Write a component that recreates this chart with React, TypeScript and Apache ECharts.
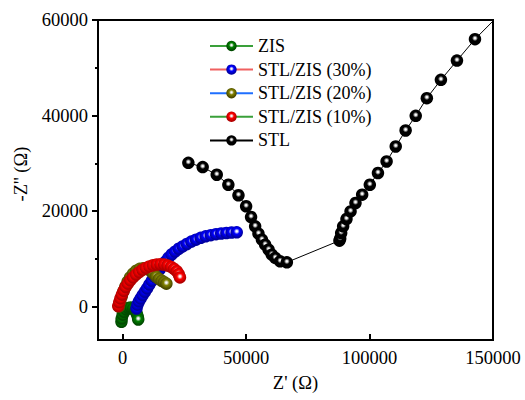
import React, { useEffect, useRef } from "react";
import * as echarts from "echarts";

const seriesNames = ["ZIS", "STL/ZIS (30%)", "STL/ZIS (20%)", "STL/ZIS (10%)", "STL"];
const markerColors = ["#008000", "#0000ff", "#808000", "#ff0000", "#000000"];
const markerDark = ["#004a00", "#0000a0", "#4a4a00", "#b00000", "#000000"];
const lineColors = ["#3aa03a", "#f06060", "#1f6fff", "#3aa03a", "#000000"];

const xTicks = [0, 50000, 100000, 150000];
const yTicks = [0, 20000, 40000, 60000];
const yMinorTicks = [10000, 30000, 50000];

const zis: number[][] = [
  [-500, -3200], [-400, -2500], [0, -1700], [600, -1100], [1400, -600], [2300, -300],
  [3300, -200], [4300, -400], [5100, -900], [5700, -1500], [6100, -2100], [6300, -2700],
];
const stlZis30: number[][] = [
  [5600, -400], [6000, 400], [6600, 1100], [7300, 1700], [8100, 2400], [9000, 3100],
  [9900, 3800], [10800, 4600], [11800, 5400], [12800, 6200], [13900, 7000], [15000, 7800],
  [16100, 8600], [17300, 9400], [18500, 10200], [19800, 10900], [21200, 11500], [22700, 12100],
  [24300, 12600], [26000, 13100], [27800, 13600], [29700, 14000], [31600, 14400], [33600, 14700],
  [35700, 14950], [37800, 15150], [39900, 15300], [42000, 15400], [44100, 15500], [46200, 15550],
];
const stlZis20: number[][] = [
  [-1500, 0], [-1000, 1000], [-400, 2100], [300, 3200], [1100, 4200], [2000, 5200],
  [3000, 6100], [4200, 6900], [5500, 7500], [6900, 7900], [8300, 8000], [9700, 7900],
  [11000, 7600], [12300, 7000], [13500, 6300], [14700, 5800], [15800, 5400], [16800, 5100],
  [17700, 4800],
];
const stlZis10: number[][] = [
  [-1800, 100], [-1400, 900], [-900, 1700], [-300, 2500], [400, 3300], [1200, 4100],
  [2100, 4800], [3100, 5500], [4200, 6100], [5400, 6700], [6700, 7200], [8000, 7700],
  [9400, 8100], [10800, 8400], [12300, 8650], [13800, 8800], [15300, 8850], [16800, 8800],
  [18200, 8600], [19600, 8300], [20800, 7900], [21900, 7400], [22700, 6800], [23200, 6100],
];
const stl: number[][] = [
  [26600, 30100], [32400, 29200], [38100, 27600], [42800, 25500], [46900, 23300],
  [50000, 21000], [52000, 18750], [53650, 16800], [55000, 15260], [56400, 14000],
  [57700, 12960], [59100, 11900], [60400, 10870], [61800, 10180], [63800, 9470],
  [66500, 9260],
  [87800, 13800], [88100, 14200], [88500, 15400], [89300, 16800], [90650, 18330],
  [92300, 19930], [94300, 21680], [97000, 23420], [100100, 25500], [103400, 27960],
  [106900, 30380], [110600, 33520], [114600, 36870], [118700, 39940], [123200, 43640],
  [128900, 47470], [135400, 51500], [142700, 55980], [151000, 60300],
];
const allData = [zis, stlZis30, stlZis20, stlZis10, stl];

const FONT = "'Liberation Serif', 'Times New Roman', serif";

function ball(c: string, dark: string) {
  return {
    type: "radial",
    x: 0.5,
    y: 0.42,
    r: 0.58,
    colorStops: [
      { offset: 0, color: "#ffffff" },
      { offset: 0.12, color: "#f0f0f0" },
      { offset: 0.4, color: c },
      { offset: 0.85, color: dark },
      { offset: 1, color: dark },
    ],
  };
}

const fmt = (v: number) => String(v);

export default function App() {
  const ref = useRef<HTMLDivElement>(null);
  useEffect(() => {
    if (!ref.current) return;
    const chart = echarts.init(ref.current, undefined, { renderer: "svg" });
    chart.setOption({
      animation: false,
      textStyle: { fontFamily: FONT, color: "#000" },
      grid: { left: 98, right: 32, top: 20, bottom: 60, show: true, borderColor: "#000", borderWidth: 2 },
      legend: {
        data: seriesNames,
        orient: "vertical",
        left: 204,
        top: 32,
        itemWidth: 43,
        itemHeight: 13,
        itemGap: 5.6,
        textStyle: { fontFamily: FONT, fontSize: 18, color: "#000", lineHeight: 18 },
      },
      xAxis: {
        type: "value",
        min: -10000,
        max: 150000,
        name: "Z' (Ω)",
        nameLocation: "middle",
        nameGap: 33,
        nameTextStyle: { fontFamily: FONT, fontSize: 18.5, color: "#000" },
        axisLine: { show: true, onZero: false, lineStyle: { color: "#000", width: 2 } },
        axisTick: { show: true, inside: true, length: 6, lineStyle: { width: 2, color: "#000" }, customValues: xTicks },
        axisLabel: { fontFamily: FONT, fontSize: 18.5, color: "#000", margin: 8, customValues: xTicks, formatter: fmt },
        splitLine: { show: false },
      },
      yAxis: [
        {
          type: "value",
          min: -7000,
          max: 60000,
          name: "-Z'' (Ω)",
          nameLocation: "middle",
          nameGap: 63,
          nameTextStyle: { fontFamily: FONT, fontSize: 18.5, color: "#000", padding: [0, 0, 0, 12] },
          axisLine: { show: true, onZero: false, lineStyle: { color: "#000", width: 2 } },
          axisTick: { show: true, inside: false, length: 6, lineStyle: { width: 2, color: "#000" }, customValues: yTicks },
          axisLabel: { fontFamily: FONT, fontSize: 18.5, color: "#000", margin: 10, customValues: yTicks, formatter: fmt },
          splitLine: { show: false },
        },
        {
          type: "value",
          position: "left",
          min: -7000,
          max: 60000,
          axisLine: { show: false, onZero: false },
          axisTick: { show: true, inside: false, length: 3, lineStyle: { width: 2, color: "#000" }, customValues: yMinorTicks },
          axisLabel: { show: false },
          splitLine: { show: false },
        },
      ],
      series: seriesNames.map((name, i) => ({
        name,
        type: "line",
        data: allData[i],
        symbol: "circle",
        symbolSize: 12.5,
        showSymbol: true,
        clip: true,
        lineStyle: { color: lineColors[i], width: 1 },
        itemStyle: { color: ball(markerColors[i], markerDark[i]) },
        emphasis: { disabled: true },
      })),
    });
    return () => chart.dispose();
  }, []);
  return <div ref={ref} style={{ width: 525, height: 400, position: "absolute", left: 0, top: 0 }} />;
}
